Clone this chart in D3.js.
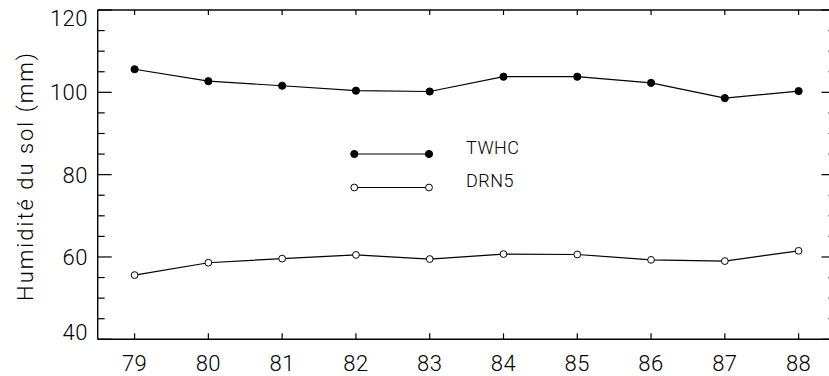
<!DOCTYPE html>
<html><head><meta charset="utf-8">
<script src="https://cdn.jsdelivr.net/npm/d3@7"></script>
<style>body{margin:0;background:#fff}svg{display:block}text{font-family:Roboto,"DejaVu Sans",sans-serif;font-weight:300;fill:#000}</style>
</head><body>
<svg id="c" width="829" height="376"></svg>
<script>
const years = [79, 80, 81, 82, 83, 84, 85, 86, 87, 88];
const twhc = [105.6, 102.7, 101.6, 100.4, 100.2, 103.8, 103.8, 102.3, 98.6, 100.3];
const drn5 = [55.6, 58.6, 59.6, 60.5, 59.5, 60.7, 60.6, 59.3, 59.0, 61.5];
const yTicks = [40, 60, 80, 100, 120];
const yMinor = d3.range(40, 121, 5);
const seriesNames = ["TWHC", "DRN5"];
const yLabel = "Humidité du sol (mm)";

const svg = d3.select("#c");
const L = 97.7, R = 835.5, T = 10, B = 339.3;
const x = d3.scaleLinear().domain([78.5, 88.5]).range([L, R]);
const y = d3.scaleLinear().domain([40, 120]).range([B, T]);

const g = svg.append("g");
// frame
g.append("line").attr("x1", L).attr("x2", 829).attr("y1", T).attr("y2", T).attr("stroke", "#444").attr("stroke-width", 2);
g.append("line").attr("x1", L).attr("x2", 829).attr("y1", B).attr("y2", B).attr("stroke", "#000").attr("stroke-width", 1.4);
g.append("line").attr("x1", L).attr("x2", L).attr("y1", T).attr("y2", B).attr("stroke", "#000").attr("stroke-width", 1.4);
g.append("line").attr("x1", R).attr("x2", R).attr("y1", T).attr("y2", B).attr("stroke", "#000").attr("stroke-width", 1.4);

// y ticks left & right
yMinor.forEach(v => {
  const major = yTicks.includes(v);
  const len = major ? 14 : 7;
  g.append("line").attr("x1", L).attr("x2", L + len).attr("y1", y(v)).attr("y2", y(v)).attr("stroke", "#000").attr("stroke-width", 1.2);
  g.append("line").attr("x1", R).attr("x2", R - len).attr("y1", y(v)).attr("y2", y(v)).attr("stroke", "#000").attr("stroke-width", 1.2);
});
// x ticks top & bottom
years.forEach(v => {
  g.append("line").attr("x1", x(v)).attr("x2", x(v)).attr("y1", B).attr("y2", B - 6).attr("stroke", "#000").attr("stroke-width", 1.2);
  g.append("line").attr("x1", x(v)).attr("x2", x(v)).attr("y1", T).attr("y2", T + 5).attr("stroke", "#000").attr("stroke-width", 1.2);
});
// y tick labels
yTicks.forEach(v => {
  let cy = y(v);
  cy = Math.max(T + 8, Math.min(B - 7, cy));
  g.append("text").attr("x", 88).attr("y", cy + 8).attr("text-anchor", "end").attr("font-size", 22).attr("letter-spacing", 0.5).text(v);
});
// x tick labels
years.forEach(v => {
  g.append("text").attr("x", x(v)).attr("y", 371).attr("text-anchor", "middle").attr("font-size", 22).attr("letter-spacing", 0.5).text(v);
});
// y label
g.append("text").attr("transform", `translate(33,176) rotate(-90)`).attr("text-anchor", "middle")
  .attr("font-size", 22).attr("letter-spacing", 2.0).text(yLabel);

const line = d3.line().x((d, i) => x(years[i])).y(d => y(d));
const data = [twhc, drn5];
data.forEach((s, k) => {
  g.append("path").attr("d", line(s)).attr("fill", "none").attr("stroke", "#000").attr("stroke-width", 1.2);
  g.selectAll(null).data(s).enter().append("circle")
    .attr("cx", (d, i) => x(years[i])).attr("cy", d => y(d)).attr("r", k === 0 ? 3.6 : 3.4)
    .attr("fill", k === 0 ? "#000" : "#fff").attr("stroke", "#000").attr("stroke-width", 1);
});

// legend
const legY = [154, 187.5];
seriesNames.forEach((n, k) => {
  g.append("line").attr("x1", 354.3).attr("x2", 429).attr("y1", legY[k]).attr("y2", legY[k]).attr("stroke", "#000").attr("stroke-width", 1.2);
  [354.3, 429].forEach(cx => g.append("circle").attr("cx", cx).attr("cy", legY[k]).attr("r", k === 0 ? 3.6 : 3.4)
    .attr("fill", k === 0 ? "#000" : "#fff").attr("stroke", "#000").attr("stroke-width", 1));
  g.append("text").attr("x", 466).attr("y", legY[k] - 0.5).attr("font-size", 18).attr("letter-spacing", 0.5).text(n);
});
</script>
</body></html>
